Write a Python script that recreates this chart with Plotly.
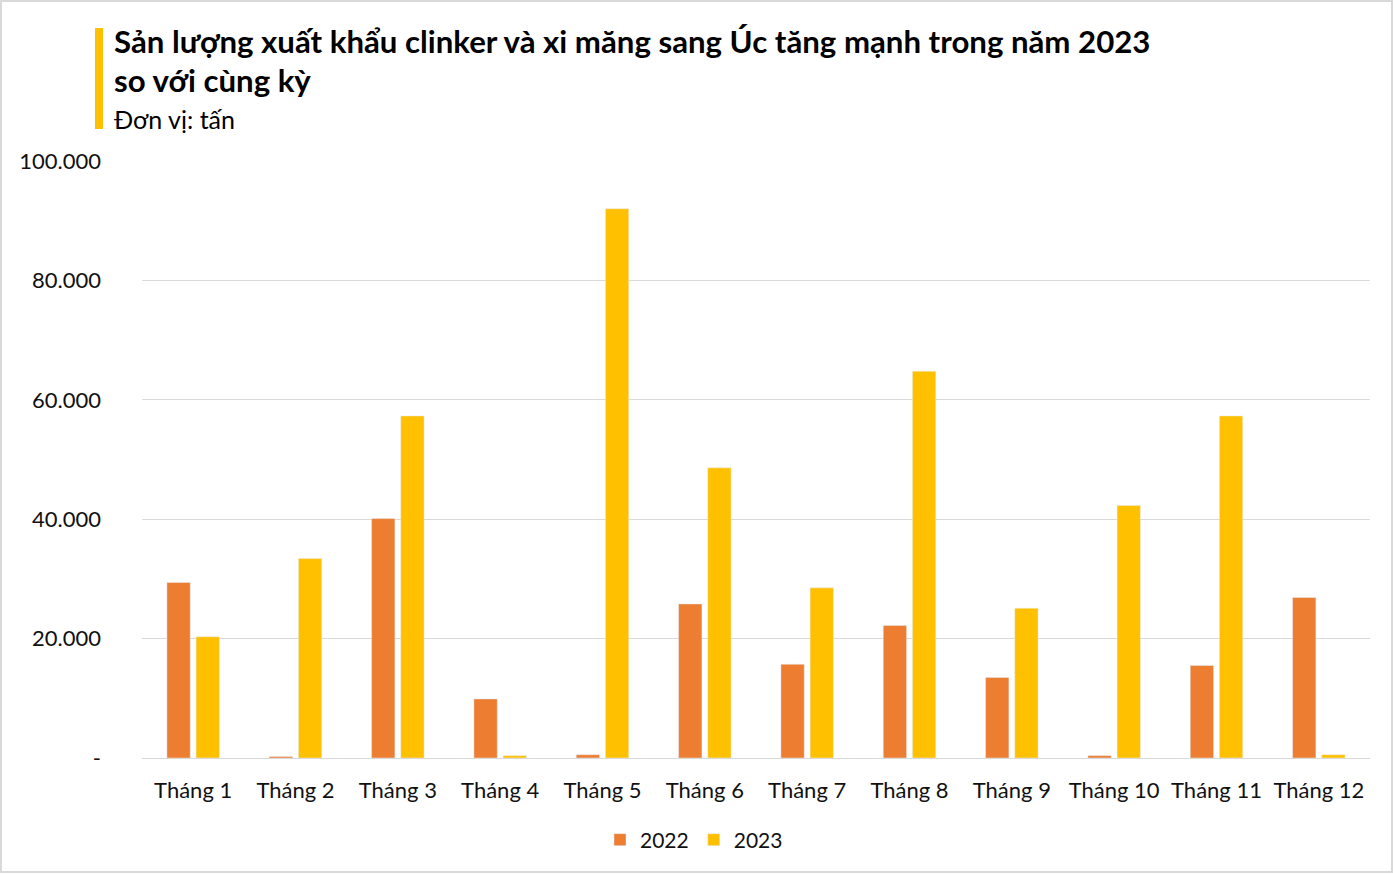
import plotly.graph_objects as go

categories = ["Tháng 1", "Tháng 2", "Tháng 3", "Tháng 4", "Tháng 5", "Tháng 6",
              "Tháng 7", "Tháng 8", "Tháng 9", "Tháng 10", "Tháng 11", "Tháng 12"]
values_2022 = [29400, 250, 40100, 9900, 550, 25800, 15700, 22200, 13500, 400, 15500, 26900]
values_2023 = [20300, 33400, 57300, 400, 92000, 48600, 28500, 64800, 25100, 42300, 57300, 550]
tick_vals = [0, 20000, 40000, 60000, 80000, 100000]
tick_text = ["-", "20.000", "40.000", "60.000", "80.000", "100.000"]

W, H = 1393, 874
L, R, T, B = 142, 23, 161, 116
pw, ph = W - L - R, H - T - B

def px_x(x):
    return (x - L) / pw

def px_y(y):
    return (H - B - y) / ph

FONT = "Lato, 'Open Sans', sans-serif"

fig = go.Figure()
fig.add_trace(go.Bar(name="2022", x=categories, y=values_2022, marker_color="#ED7D31"))
fig.add_trace(go.Bar(name="2023", x=categories, y=values_2023, marker_color="#FFC000"))

fig.update_layout(
    width=W, height=H,
    margin=dict(l=L, r=R, t=T, b=B, autoexpand=False),
    paper_bgcolor="white", plot_bgcolor="white",
    barmode="group", bargap=0.43, bargroupgap=0.2,
    font=dict(family=FONT, size=21, color="#111111"),
    showlegend=True,
    legend=dict(orientation="h", x=px_x(694), xanchor="center",
                y=px_y(840), yanchor="middle", font=dict(size=21, color="#111111"),
                itemwidth=30, traceorder="normal"),
    xaxis=dict(showgrid=False, showline=True, linecolor="#D9D9D9", linewidth=1,
               ticks="", tickfont=dict(size=22, color="#111111"), ticklabelstandoff=13),
    yaxis=dict(range=[0, 100000], tickvals=tick_vals, ticktext=tick_text,
               showgrid=True, gridcolor="#D9D9D9", gridwidth=1, zeroline=False,
               showline=False, ticks="", tickfont=dict(size=22, color="#111111"),
               ticklabelstandoff=40),
    annotations=[
        dict(text="<b>Sản lượng xuất khẩu clinker và xi măng sang Úc tăng mạnh trong năm 2023</b>",
             xref="paper", yref="paper", x=px_x(112), y=px_y(41), xanchor="left", yanchor="middle",
             showarrow=False, font=dict(size=31.2, color="#000000", family=FONT)),
        dict(text="<b>so với cùng kỳ</b>",
             xref="paper", yref="paper", x=px_x(112), y=px_y(80), xanchor="left", yanchor="middle",
             showarrow=False, font=dict(size=31.2, color="#000000", family=FONT)),
        dict(text="Đơn vị: tấn",
             xref="paper", yref="paper", x=px_x(112), y=px_y(119), xanchor="left", yanchor="middle",
             showarrow=False, font=dict(size=25, color="#000000", family=FONT)),
    ],
    shapes=[
        dict(type="rect", xref="paper", yref="paper", x0=px_x(95), x1=px_x(103),
             y0=px_y(129), y1=px_y(28), fillcolor="#FFC000", line=dict(width=0)),
        dict(type="rect", xref="paper", yref="paper", x0=px_x(1), x1=px_x(W - 1),
             y0=px_y(H - 2), y1=px_y(1), fillcolor="rgba(0,0,0,0)",
             line=dict(width=2, color="#D9D9D9")),
    ],
)

fig.write_html("out.html",
               config={"displayModeBar": False},
               post_script="document.body.style.margin='0';document.body.style.padding='0';")
